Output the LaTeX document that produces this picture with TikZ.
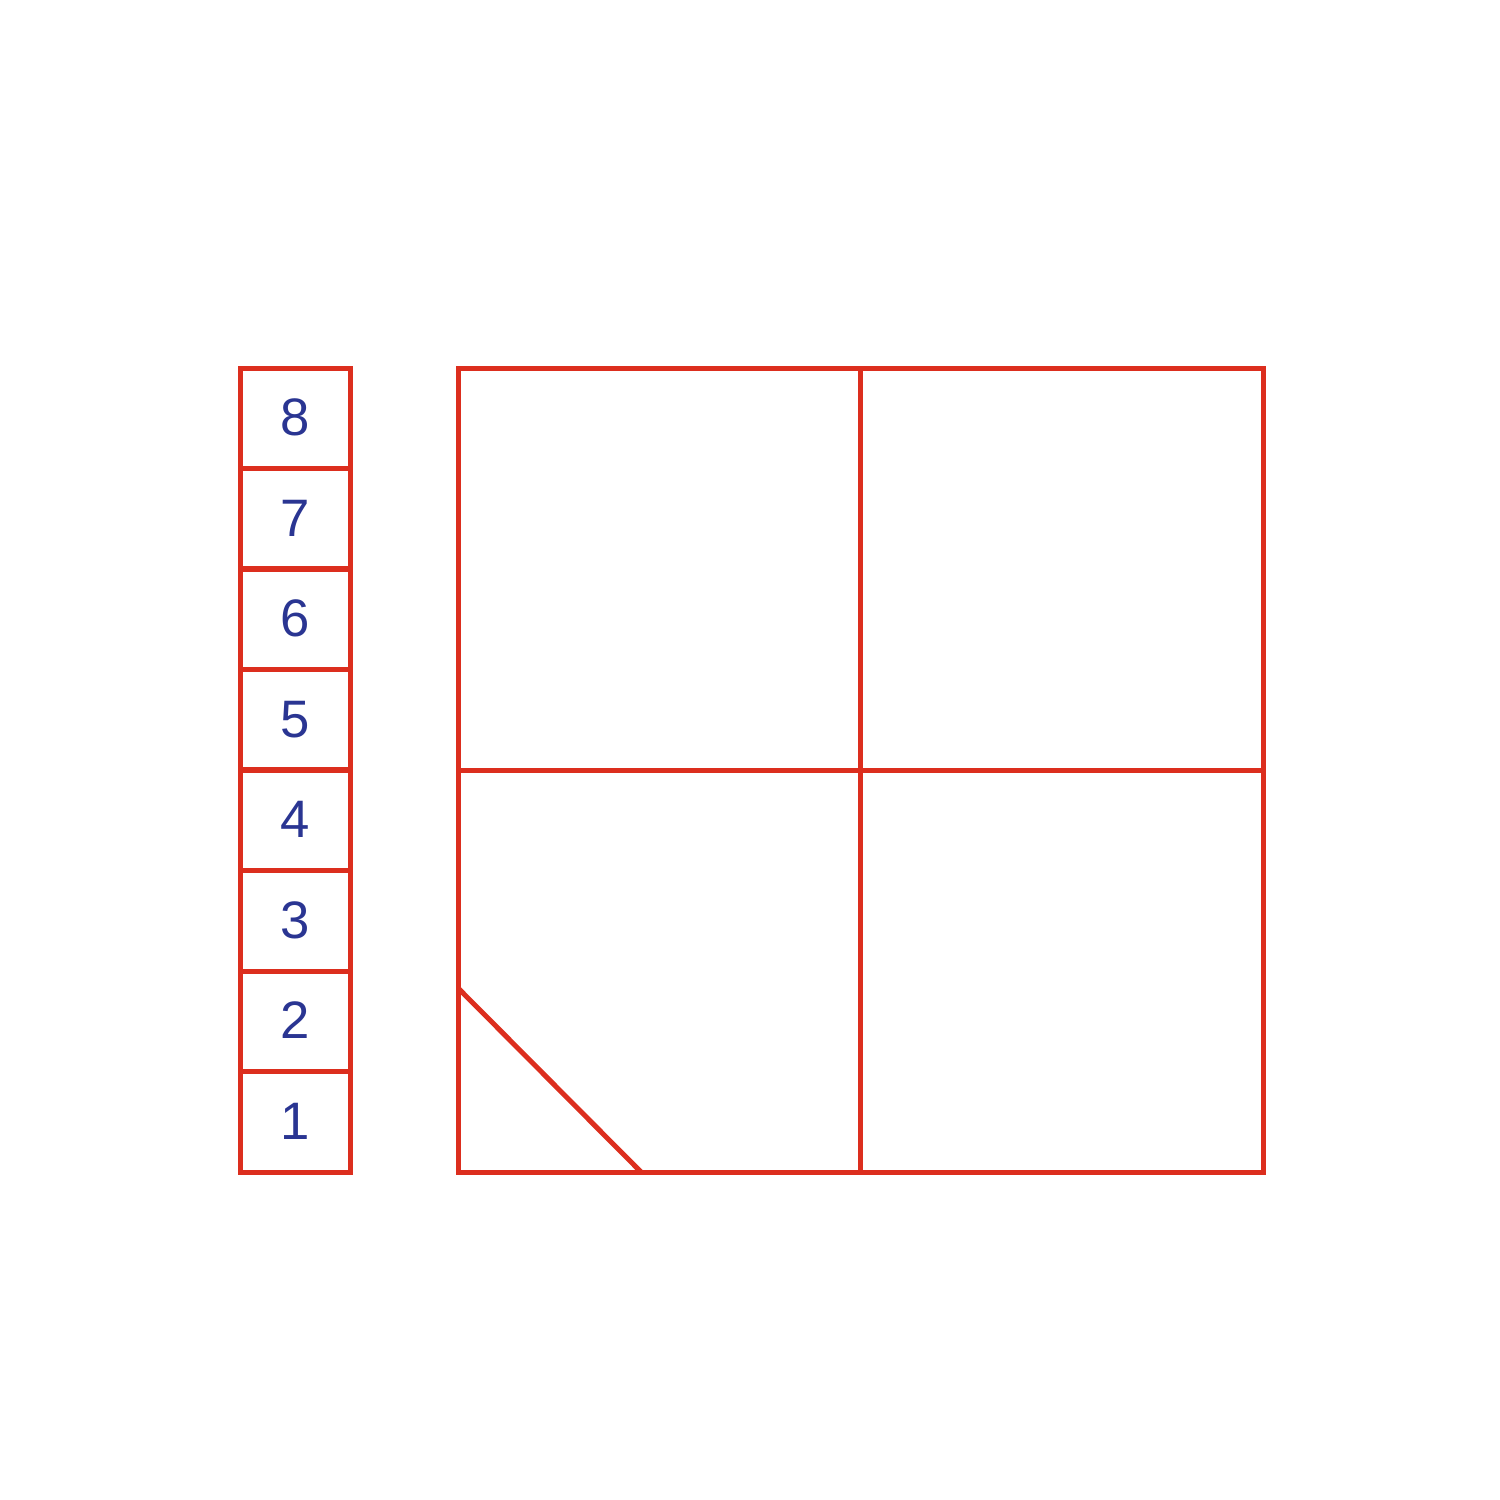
\documentclass[tikz,border=0pt]{standalone}
\usepackage{fontspec}
\setmainfont{Liberation Sans}
\definecolor{redline}{HTML}{DC2E1E}
\definecolor{bluetext}{HTML}{2A3592}
\begin{document}
\begin{tikzpicture}[x=0.02cm,y=-0.02cm,
  cell/.style={draw=redline,line width=0.1cm,minimum width=2.22cm,minimum height=2.01cm,inner sep=0pt,text=bluetext,font=\fontsize{30}{34}\selectfont,anchor=center},
  redl/.style={draw=redline,line width=0.1cm}]
\useasboundingbox (0,0) rectangle (1500,1500);
\foreach \i in {1,...,8}{
  \node[cell] (c\i) at (295.5,{1172-(\i-0.5)*100.5}) {\raisebox{1pt}{\i}};
}
\coordinate (tl) at (458,368);
\coordinate (br) at (1263,1172);
\coordinate (tm) at (860,368);
\coordinate (bm) at (860,1172);
\coordinate (lm) at (458,770);
\coordinate (rm) at (1263,770);
\coordinate (d1) at (458,988);
\coordinate (d2) at (641,1172);
\draw[redl] (tl) rectangle (br);
\draw[redl] (tm) -- (bm);
\draw[redl] (lm) -- (rm);
\draw[redl] (d1) -- (d2);
\end{tikzpicture}
\end{document}
